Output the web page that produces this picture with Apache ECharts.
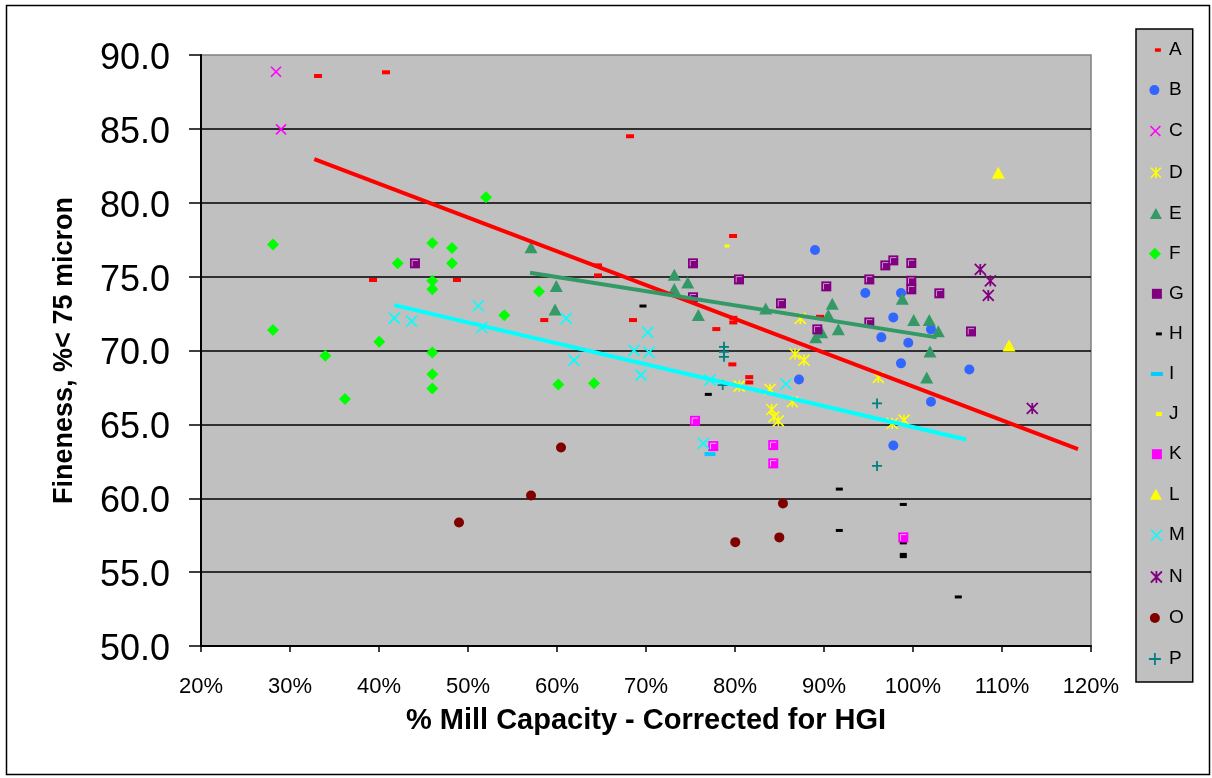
<!DOCTYPE html>
<html>
<head>
<meta charset="utf-8">
<script src="https://cdn.jsdelivr.net/npm/echarts@6/dist/echarts.min.js"></script>
<style>
  html, body { margin: 0; padding: 0; background: #ffffff; }
  #chart { width: 1212px; height: 778px; }
</style>
</head>
<body>
<div id="chart"></div>
<script>
// Mill test points: [% mill capacity (HGI corrected), fineness % < 75 micron]
const dataA = [[33.15, 88.58], [40.79, 88.83], [68.2, 84.5], [39.33, 74.77], [48.76, 74.77],
  [58.57, 72.06], [64.61, 75.76], [64.61, 75.08], [68.54, 72.06], [79.78, 77.75],
  [77.9, 71.45], [79.81, 72.21], [79.81, 71.9], [79.7, 69.06], [81.6, 68.2],
  [81.6, 67.84], [89.55, 72.28]];
const dataB = [[88.99, 76.8], [94.64, 73.89], [98.65, 73.89], [97.79, 72.24], [102.02, 71.43],
  [96.44, 70.89], [99.47, 70.52], [98.65, 69.13], [106.33, 68.72], [87.19, 68.04],
  [102.02, 66.53], [97.79, 63.57]];
const dataC = [[28.43, 88.87], [28.99, 84.97]];
const dataD = [[80.48, 67.59], [83.93, 67.37], [84.12, 66.01], [84.38, 65.51], [84.87, 65.24],
  [86.74, 69.76], [87.34, 72.17], [87.75, 69.35], [96.1, 68.18], [86.44, 66.53],
  [97.67, 65.06], [98.99, 65.29]];
const dataE = [[57.08, 76.98], [59.92, 74.36], [59.78, 72.78], [73.18, 75.13], [74.69, 74.61],
  [73.18, 74.16], [75.88, 72.4], [83.45, 72.85], [98.8, 73.5], [90.93, 73.16],
  [90.48, 72.4], [100.08, 72.06], [101.83, 72.06], [102.84, 71.31], [91.61, 71.43],
  [89.74, 71.23], [89.07, 70.89], [101.91, 69.94], [101.54, 68.18]];
const dataF = [[52.02, 80.37], [28.09, 77.18], [45.99, 77.27], [48.2, 76.93], [42.1, 75.9],
  [48.2, 75.9], [45.99, 74.72], [45.99, 74.14], [54.08, 72.38], [28.09, 71.38],
  [40.03, 70.59], [33.97, 69.65], [45.99, 69.87], [45.99, 68.4], [45.99, 67.43],
  [36.18, 66.71], [57.98, 74.0], [60.15, 67.7], [64.16, 67.79]];
const dataG = [[44.04, 75.9], [75.28, 75.9], [80.45, 74.81], [75.28, 73.6], [85.17, 73.19],
  [96.89, 75.76], [97.79, 76.1], [99.81, 75.92], [95.09, 74.81], [99.81, 74.72],
  [99.81, 74.14], [90.26, 74.34], [102.96, 73.87], [95.09, 71.9], [89.25, 71.43],
  [106.52, 71.29]];
const dataH = [[69.66, 73.01], [77.0, 67.03], [91.72, 60.62], [98.91, 59.58], [91.72, 57.82],
  [98.91, 56.98], [98.91, 56.2], [98.91, 56.05], [105.09, 53.32]];
const dataI = [[77.19, 62.99]];
const dataJ = [[79.1, 77.07]];
const dataK = [[75.51, 65.24], [77.56, 63.53], [84.3, 63.6], [84.3, 62.36], [98.91, 57.35]];
const dataL = [[109.58, 82.03], [110.79, 70.34]];
const dataM = [[51.16, 73.03], [41.72, 72.19], [43.67, 71.99], [51.54, 71.56], [61.04, 72.17],
  [61.91, 69.33], [70.19, 71.23], [68.65, 70.01], [70.34, 69.87], [69.44, 68.33],
  [77.19, 68.0], [85.73, 67.73], [76.44, 63.71]];
const dataN = [[107.56, 75.49], [108.69, 74.72], [108.46, 73.73], [113.4, 66.08]];
const dataO = [[48.99, 58.36], [60.45, 63.44], [57.08, 60.19], [85.39, 59.65], [84.98, 57.35],
  [80.03, 57.03]];
const dataP = [[78.76, 70.25], [78.76, 69.91], [78.76, 69.57], [78.62, 67.66], [95.96, 66.42],
  [95.96, 62.19]];

// Linear trend lines (start and end points)
const trendA = [[32.73, 82.96], [118.54, 63.32]];
const trendE = [[56.97, 75.26], [102.66, 70.89]];
const trendM = [[41.72, 73.07], [105.96, 63.98]];

const seriesNames = ['A', 'B', 'C', 'D', 'E', 'F', 'G', 'H', 'I', 'J', 'K', 'L', 'M', 'N', 'O', 'P'];
const seriesData = {
  A: dataA, B: dataB, C: dataC, D: dataD, E: dataE, F: dataF, G: dataG, H: dataH,
  I: dataI, J: dataJ, K: dataK, L: dataL, M: dataM, N: dataN, O: dataO, P: dataP
};

const X_MIN = 20, X_MAX = 120, X_STEP = 10;
const Y_MIN = 50, Y_MAX = 90, Y_STEP = 5;

const FONT = '"Liberation Sans", Arial, Helvetica, sans-serif';

// Marker shapes
const X_PATH = 'path://M0,0L10,10M10,0L0,10';
const STAR_PATH = 'path://M0,0L10,10M10,0L0,10M5,0L5,10';
const PLUS_PATH = 'path://M5,0L5,10M0,5L10,5';
const CORNER_PATH = 'path://M0,0M10,10M2.2,8V2.2H8';

// Legend icons laid out in a 16 x 20 box
const PAD = 'M0,0M16,20';
const legendIcons = {
  dashA: 'path://' + PAD + 'M7,8.3h6v3.5h-6z',
  circle: 'path://' + PAD + 'M1.5,10a5,5 0 1,0 10,0a5,5 0 1,0 -10,0z',
  circleO: 'path://' + PAD + 'M2,10a5,5 0 1,0 10,0a5,5 0 1,0 -10,0z',
  cross: 'path://' + PAD + 'M2.5,5L12.5,15M12.5,5L2.5,15',
  star: 'path://' + PAD + 'M3,5L13,15M13,5L3,15M8,4.5V15.5',
  triangle: 'path://' + PAD + 'M2,15.5L8,4.5L14,15.5Z',
  diamond: 'path://' + PAD + 'M7,4L13,10L7,16L1,10Z',
  square: 'path://' + PAD + 'M4,5h10v10h-10z',
  dashH: 'path://' + PAD + 'M8,8.5h6v3h-6z',
  dashI: 'path://' + PAD + 'M3,8h12v4h-12z',
  dashJ: 'path://' + PAD + 'M8,8h6v4h-6z',
  crossM: 'path://' + PAD + 'M3,4.5L14,15.5M14,4.5L3,15.5',
  starN: 'path://' + PAD + 'M3,4.5L14,15.5M14,4.5L3,15.5M8.5,4V16',
  plus: 'path://' + PAD + 'M7,4V16M1,10H13'
};

const markStyle = {
  A: { color: '#FF0000', symbol: 'rect', size: [8, 4], icon: legendIcons.dashA },
  B: { color: '#3366FF', symbol: 'circle', size: 10, icon: legendIcons.circle },
  C: { color: '#FF00FF', symbol: X_PATH, size: 10, stroke: 1.6, icon: legendIcons.cross },
  D: { color: '#FFFF00', symbol: STAR_PATH, size: 11, stroke: 1.6, icon: legendIcons.star },
  E: { color: '#339966', symbol: 'triangle', size: [13, 12], icon: legendIcons.triangle },
  F: { color: '#00FF00', symbol: 'diamond', size: [12, 12], icon: legendIcons.diamond },
  G: { color: '#800080', symbol: 'rect', size: 10, corner: '#C68FC6', icon: legendIcons.square },
  H: { color: '#000000', symbol: 'rect', size: [7, 3], icon: legendIcons.dashH },
  I: { color: '#00CCFF', symbol: 'rect', size: [11, 4], icon: legendIcons.dashI },
  J: { color: '#FFFF00', symbol: 'rect', size: [5, 3], icon: legendIcons.dashJ },
  K: { color: '#FF00FF', symbol: 'rect', size: 10, corner: '#FFB0FF', icon: legendIcons.square },
  L: { color: '#FFFF00', symbol: 'triangle', size: [13, 12], icon: legendIcons.triangle },
  M: { color: '#00FFFF', symbol: X_PATH, size: 11, stroke: 1.6, icon: legendIcons.crossM },
  N: { color: '#800080', symbol: STAR_PATH, size: 11, stroke: 1.8, icon: legendIcons.starN },
  O: { color: '#800000', symbol: 'circle', size: 10, icon: legendIcons.circleO },
  P: { color: '#008080', symbol: PLUS_PATH, size: 10, stroke: 1.8, icon: legendIcons.plus }
};

const trendStyle = [
  { data: trendA, color: '#FF0000' },
  { data: trendE, color: '#339966' },
  { data: trendM, color: '#00FFFF' }
];

const series = [];
seriesNames.forEach(function (n) {
  const st = markStyle[n];
  series.push({
    name: n,
    type: 'scatter',
    data: seriesData[n],
    symbol: st.symbol,
    symbolSize: st.size,
    itemStyle: { color: st.color, borderColor: st.color, borderWidth: st.stroke || 0, opacity: 1 },
    emphasis: { disabled: true },
    silent: true,
    z: 3
  });
  if (st.corner) {
    // light inner edge of the square markers
    series.push({
      name: n + '-edge',
      type: 'scatter',
      data: seriesData[n],
      symbol: CORNER_PATH,
      symbolSize: st.size,
      itemStyle: { color: 'rgba(0,0,0,0)', borderColor: st.corner, borderWidth: 1, opacity: 1 },
      emphasis: { disabled: true },
      silent: true,
      z: 3
    });
  }
});
trendStyle.forEach(function (t, i) {
  series.push({
    name: 'trend' + i,
    type: 'line',
    data: t.data,
    symbol: 'none',
    lineStyle: { color: t.color, width: 4 },
    emphasis: { disabled: true },
    silent: true,
    animation: false,
    z: 4
  });
});

const chart = echarts.init(document.getElementById('chart'), null, { renderer: 'canvas' });
chart.setOption({
  animation: false,
  backgroundColor: '#FFFFFF',
  textStyle: { fontFamily: FONT },
  graphic: [{
    type: 'rect',
    shape: { x: 6.5, y: 5.5, width: 1203, height: 769 },
    style: { fill: 'none', stroke: '#000000', lineWidth: 1.5 },
    silent: true
  }],
  grid: {
    left: 201, top: 55, right: 121, bottom: 132,
    show: true,
    backgroundColor: '#C0C0C0',
    borderColor: '#808080',
    borderWidth: 1.5,
    outerBoundsMode: 'none'
  },
  xAxis: {
    type: 'value',
    min: X_MIN, max: X_MAX, interval: X_STEP,
    name: '% Mill Capacity - Corrected for HGI',
    nameLocation: 'middle',
    nameGap: 60,
    nameTextStyle: { fontFamily: FONT, fontSize: 29, fontWeight: 'bold', color: '#000000' },
    axisLine: { show: true, onZero: false, lineStyle: { color: '#000000', width: 2 } },
    axisTick: { show: true, inside: false, length: 6, lineStyle: { color: '#000000', width: 1.5 } },
    axisLabel: { formatter: '{value}%', fontFamily: FONT, fontSize: 22, color: '#000000', margin: 30 },
    splitLine: { show: false }
  },
  yAxis: {
    type: 'value',
    min: Y_MIN, max: Y_MAX, interval: Y_STEP,
    name: 'Fineness, %< 75 micron',
    nameLocation: 'middle',
    nameGap: 123,
    nameRotate: 90,
    nameTextStyle: { fontFamily: FONT, fontSize: 27, fontWeight: 'bold', color: '#000000' },
    axisLine: { show: true, onZero: false, lineStyle: { color: '#000000', width: 2 } },
    axisTick: { show: true, inside: false, length: 12, lineStyle: { color: '#000000', width: 1.5 } },
    axisLabel: {
      formatter: function (v) { return v.toFixed(1); },
      fontFamily: FONT, fontSize: 36, color: '#000000', margin: 31,
      verticalAlign: 'top', lineHeight: 8
    },
    splitLine: { show: true, showMinLine: false, showMaxLine: false, lineStyle: { color: '#000000', width: 1.5 } }
  },
  legend: {
    orient: 'vertical',
    left: 1136, top: 29,
    selectedMode: false,
    itemWidth: 16, itemHeight: 20, itemGap: 20.1,
    padding: [11, 8, 12, 11],
    backgroundColor: '#C0C0C0',
    borderColor: '#000000',
    borderWidth: 1.5,
    borderRadius: 0,
    textStyle: { fontFamily: FONT, fontSize: 19, color: '#000000', lineHeight: 20 },
    data: seriesNames.map(function (n) {
      const st = markStyle[n];
      return {
        name: n,
        icon: st.icon,
        itemStyle: { color: st.color, borderColor: st.color, borderWidth: st.stroke || 0, opacity: 1 }
      };
    })
  },
  series: series
});
</script>
</body>
</html>
